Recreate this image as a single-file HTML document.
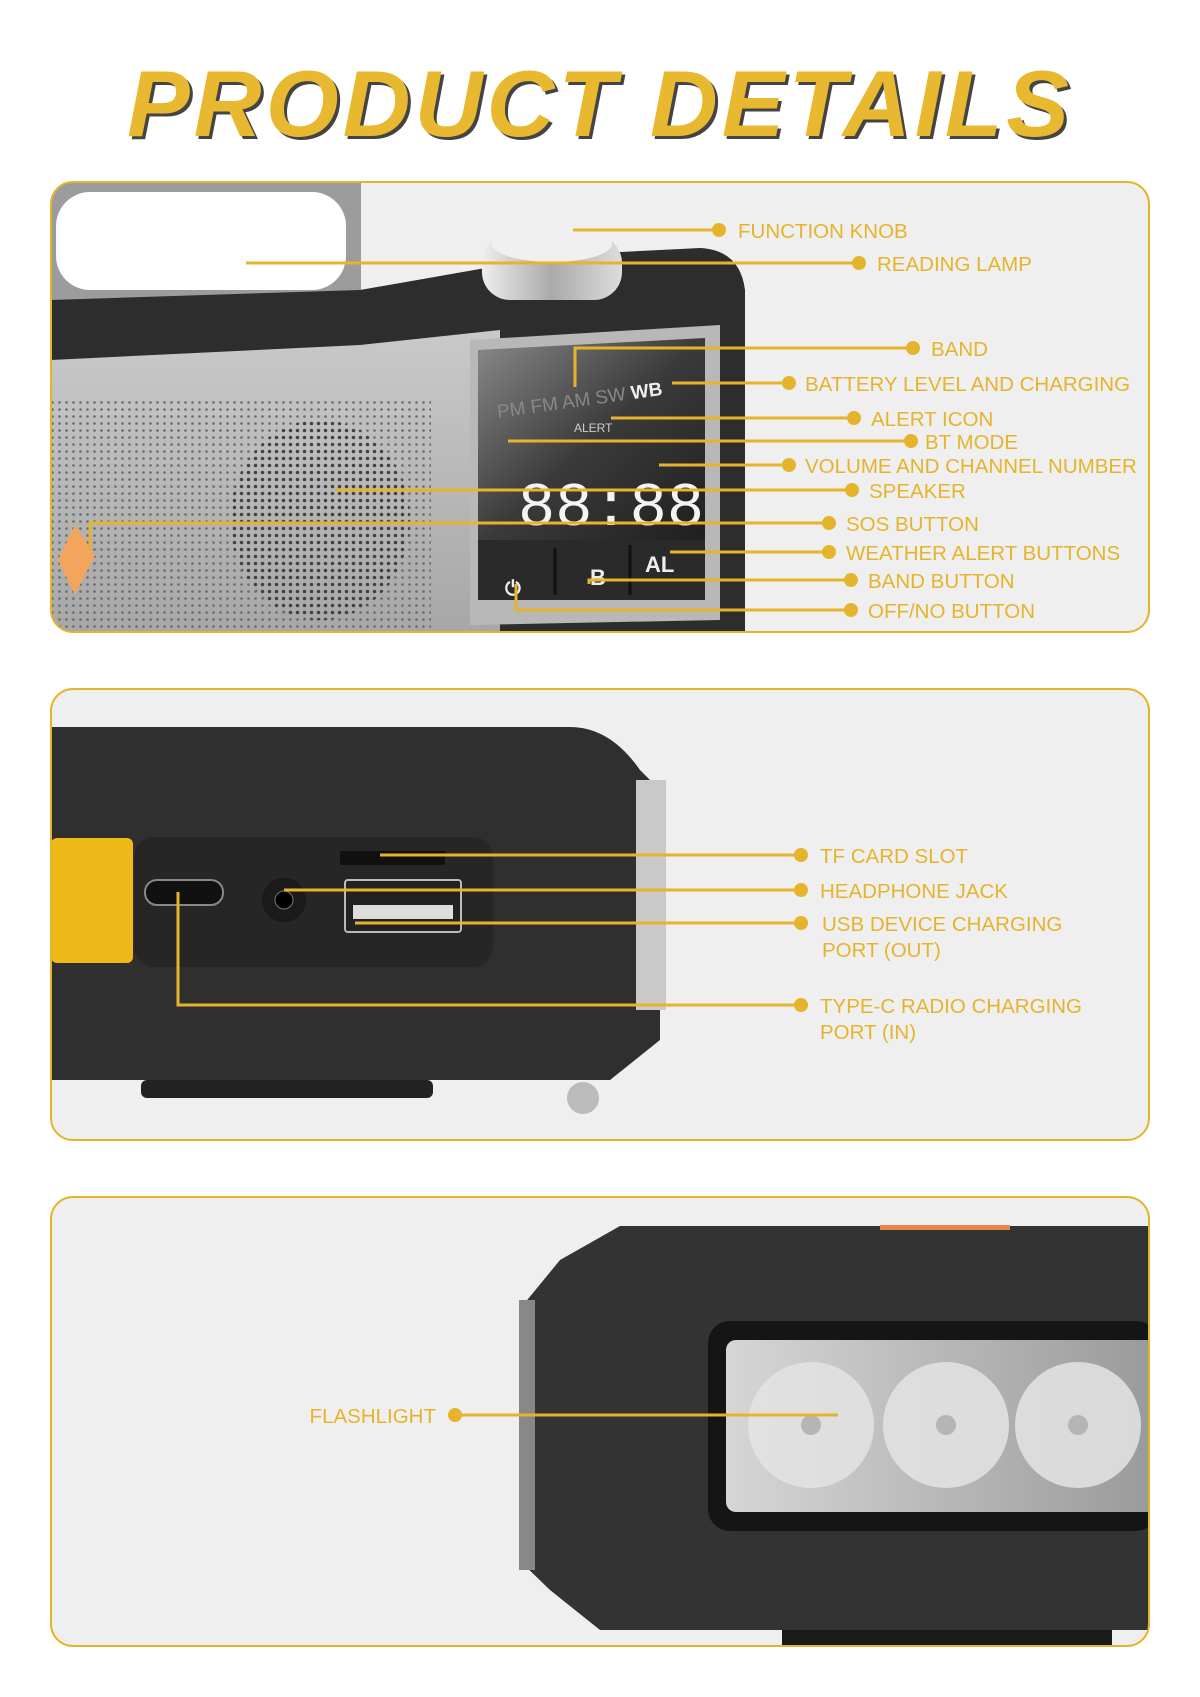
<!DOCTYPE html>
<html><head><meta charset="utf-8"><style>
html,body{margin:0;padding:0;background:#fff;}
svg{display:block}
.t{font-family:"Liberation Sans Narrow","Liberation Sans",sans-serif;font-size:20.5px;fill:#e6b42c;}
</style></head><body>
<svg width="1200" height="1697" viewBox="0 0 1200 1697" xmlns="http://www.w3.org/2000/svg">
<defs>
<pattern id="dots" width="7" height="7" patternUnits="userSpaceOnUse"><circle cx="3.5" cy="3.5" r="1.3" fill="#6a6a6a"/></pattern>
<pattern id="dots2" width="7" height="7" patternUnits="userSpaceOnUse"><circle cx="3.5" cy="3.5" r="1.8" fill="#333"/></pattern>
<linearGradient id="silver" x1="0" y1="0" x2="0" y2="1"><stop offset="0" stop-color="#c9c9c9"/><stop offset="1" stop-color="#a7a7a7"/></linearGradient>
<linearGradient id="scr" x1="0" y1="0" x2="1" y2="1"><stop offset="0" stop-color="#8a8a8a"/><stop offset="0.5" stop-color="#3a3a3a"/><stop offset="1" stop-color="#1e1e1e"/></linearGradient>
<linearGradient id="lite" x1="0" y1="0" x2="1" y2="0"><stop offset="0" stop-color="#d6d6d6"/><stop offset="1" stop-color="#9a9a9a"/></linearGradient>
<linearGradient id="knob" x1="0" y1="0" x2="1" y2="0"><stop offset="0" stop-color="#eee"/><stop offset="0.5" stop-color="#aaa"/><stop offset="1" stop-color="#ddd"/></linearGradient>
<clipPath id="c1"><rect x="51" y="182" width="1098" height="450" rx="22"/></clipPath>
<clipPath id="c2"><rect x="51" y="689" width="1098" height="451" rx="22"/></clipPath>
<clipPath id="c3"><rect x="51" y="1197" width="1098" height="449" rx="22"/></clipPath>
</defs>

<!-- Title -->
<text x="600" y="136" text-anchor="middle" font-family="Liberation Sans, sans-serif" font-weight="bold" font-style="italic" font-size="94" letter-spacing="4" fill="#444" transform="translate(3,3)">PRODUCT DETAILS</text>
<text x="600" y="136" text-anchor="middle" font-family="Liberation Sans, sans-serif" font-weight="bold" font-style="italic" font-size="94" letter-spacing="4" fill="#e8b930">PRODUCT DETAILS</text>

<!-- Panel 1 -->
<rect x="51" y="182" width="1098" height="450" rx="22" fill="#efefef"/>
<g clip-path="url(#c1)">
  <rect x="51" y="182" width="310" height="150" fill="#9c9c9c"/>
  <rect x="56" y="192" width="290" height="98" rx="34" fill="#fff"/>
  <path d="M51 300 L360 290 L560 255 L700 248 Q740 250 745 290 L745 632 L51 632 Z" fill="#2d2d2d"/>
  <path d="M51 360 L360 345 L500 330 L500 632 L51 632 Z" fill="url(#silver)"/>
  <rect x="51" y="400" width="380" height="232" fill="url(#dots)"/>
  <ellipse cx="320" cy="520" rx="90" ry="100" fill="url(#dots2)" opacity="0.8"/>
  <path d="M470 340 L720 325 L720 620 L470 625 Z" fill="#b8b8b8"/>
  <path d="M478 350 L705 338 L705 540 L478 548 Z" fill="url(#scr)"/>
  <rect x="478" y="540" width="227" height="60" fill="#2a2a2a"/>
  <path d="M555 548 L555 595 M630 545 L630 595" stroke="#111" stroke-width="3"/>
  <text x="498" y="418" font-family="Liberation Sans,sans-serif" font-size="19" fill="#888" transform="rotate(-8 498 418)">PM FM AM SW <tspan fill="#eee" font-weight="bold">WB</tspan></text>
  <text x="574" y="432" font-family="Liberation Sans,sans-serif" font-size="12" fill="#ccc">ALERT</text>
  <text x="518" y="525" font-family="Liberation Mono,monospace" font-size="62" fill="#f4f4f4">88:88</text>
  <text x="590" y="585" font-family="Liberation Sans,sans-serif" font-weight="bold" font-size="22" fill="#eee">B</text>
  <text x="645" y="572" font-family="Liberation Sans,sans-serif" font-weight="bold" font-size="22" fill="#eee">AL</text>
  <text x="505" y="595" font-family="Liberation Sans,sans-serif" font-weight="bold" font-size="20" fill="#eee">⏻</text>
  <rect x="482" y="235" width="140" height="65" rx="28" fill="url(#knob)"/>
  <ellipse cx="552" cy="244" rx="60" ry="18" fill="#f0f0f0"/>
  <path d="M75 525 L95 555 L75 595 L58 560 Z" fill="#f4a55c"/>
</g>
<rect x="51" y="182" width="1098" height="450" rx="22" fill="none" stroke="#e6b42c" stroke-width="2"/>
<g stroke="#e6b42c" stroke-width="3" fill="none">
  <path d="M573 230 H719"/><path d="M246 263 H859"/>
  <path d="M575 387 V348 H913"/><path d="M672 383 H789"/><path d="M611 418 H854"/>
  <path d="M508 441 H911"/><path d="M659 465 H789"/><path d="M335 490 H852"/>
  <path d="M90 551 V523 H829"/><path d="M670 552 H829"/><path d="M589 584 V580 H851"/>
  <path d="M516 584 V610 H851"/>
</g>
<g fill="#e6b42c">
  <circle cx="719" cy="230" r="7"/><circle cx="859" cy="263" r="7"/><circle cx="913" cy="348" r="7"/>
  <circle cx="789" cy="383" r="7"/><circle cx="854" cy="418" r="7"/><circle cx="911" cy="441" r="7"/>
  <circle cx="789" cy="465" r="7"/><circle cx="852" cy="490" r="7"/><circle cx="829" cy="523" r="7"/>
  <circle cx="829" cy="552" r="7"/><circle cx="851" cy="580" r="7"/><circle cx="851" cy="610" r="7"/>
</g>
<text class="t" x="738" y="238">FUNCTION KNOB</text>
<text class="t" x="877" y="271">READING LAMP</text>
<text class="t" x="931" y="356">BAND</text>
<text class="t" x="805" y="391">BATTERY LEVEL AND CHARGING</text>
<text class="t" x="871" y="426">ALERT ICON</text>
<text class="t" x="925" y="449">BT MODE</text>
<text class="t" x="805" y="473">VOLUME AND CHANNEL NUMBER</text>
<text class="t" x="869" y="498">SPEAKER</text>
<text class="t" x="846" y="531">SOS BUTTON</text>
<text class="t" x="846" y="560">WEATHER ALERT BUTTONS</text>
<text class="t" x="868" y="588">BAND BUTTON</text>
<text class="t" x="868" y="618">OFF/NO BUTTON</text>

<!-- Panel 2 -->
<rect x="51" y="689" width="1098" height="451" rx="22" fill="#efefef"/>
<g clip-path="url(#c2)">
  <path d="M51 727 H570 Q610 727 640 770 L660 790 L660 1040 L610 1080 L51 1080 Z" fill="#2f2f2f"/>
  <rect x="636" y="780" width="30" height="230" fill="#c9c9c9"/>
  <rect x="134" y="837" width="359" height="130" rx="20" fill="#262626"/>
  <rect x="51" y="838" width="82" height="125" rx="6" fill="#f0b91a"/>
  <rect x="145" y="880" width="78" height="25" rx="12" fill="#111" stroke="#888" stroke-width="2"/>
  <circle cx="284" cy="900" r="22" fill="#1a1a1a"/><circle cx="284" cy="900" r="9" fill="#000" stroke="#777"/>
  <rect x="340" y="851" width="105" height="14" fill="#111"/>
  <rect x="345" y="880" width="116" height="52" rx="3" fill="#222" stroke="#bbb" stroke-width="2"/>
  <rect x="353" y="905" width="100" height="14" fill="#ddd"/>
  <rect x="141" y="1080" width="292" height="18" rx="6" fill="#222"/>
  <circle cx="583" cy="1098" r="16" fill="#bbb"/>
</g>
<rect x="51" y="689" width="1098" height="451" rx="22" fill="none" stroke="#e6b42c" stroke-width="2"/>
<g stroke="#e6b42c" stroke-width="3" fill="none">
  <path d="M380 855 H801"/><path d="M284 890 H801"/><path d="M355 923 H801"/>
  <path d="M178 892 V1005 H801"/>
</g>
<g fill="#e6b42c"><circle cx="801" cy="855" r="7"/><circle cx="801" cy="890" r="7"/><circle cx="801" cy="923" r="7"/><circle cx="801" cy="1005" r="7"/></g>
<text class="t" x="820" y="863">TF CARD SLOT</text>
<text class="t" x="820" y="898">HEADPHONE JACK</text>
<text class="t" x="822" y="931">USB DEVICE CHARGING</text>
<text class="t" x="822" y="957">PORT (OUT)</text>
<text class="t" x="820" y="1013">TYPE-C RADIO CHARGING</text>
<text class="t" x="820" y="1039">PORT (IN)</text>

<!-- Panel 3 -->
<rect x="51" y="1197" width="1098" height="449" rx="22" fill="#efefef"/>
<g clip-path="url(#c3)">
  <path d="M620 1226 H1149 V1630 L600 1630 L550 1590 L519 1560 V1310 L560 1260 Z" fill="#333"/>
  <rect x="519" y="1300" width="16" height="270" fill="#888"/>
  <rect x="708" y="1321" width="450" height="210" rx="22" fill="#151515"/>
  <rect x="726" y="1340" width="430" height="172" rx="10" fill="url(#lite)"/>
  <g fill="#e4e4e4" opacity="0.85"><circle cx="811" cy="1425" r="63"/><circle cx="946" cy="1425" r="63"/><circle cx="1078" cy="1425" r="63"/></g>
  <g fill="#b5b5b5"><circle cx="811" cy="1425" r="10"/><circle cx="946" cy="1425" r="10"/><circle cx="1078" cy="1425" r="10"/></g>
  <rect x="880" y="1225" width="130" height="5" fill="#e8854a"/>
  <rect x="782" y="1630" width="330" height="20" fill="#1a1a1a"/>
</g>
<rect x="51" y="1197" width="1098" height="449" rx="22" fill="none" stroke="#e6b42c" stroke-width="2"/>
<path d="M455 1415 H838" stroke="#e6b42c" stroke-width="3"/>
<circle cx="455" cy="1415" r="7" fill="#e6b42c"/>
<text class="t" x="436" y="1423" text-anchor="end">FLASHLIGHT</text>
</svg>
</body></html>
